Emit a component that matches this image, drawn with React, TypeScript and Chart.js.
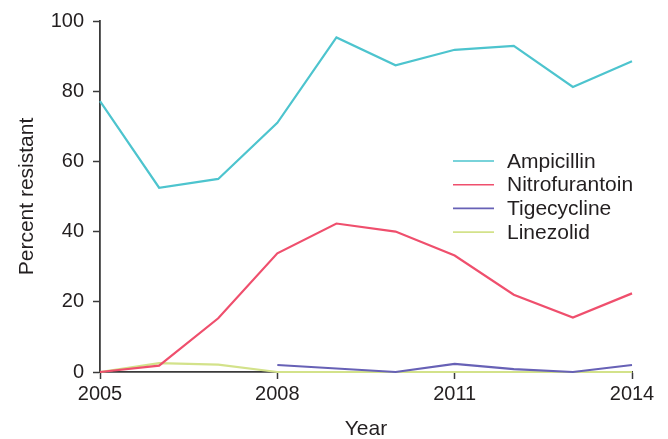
import React, { useEffect, useRef } from "react";
import { Chart, registerables } from "chart.js";

Chart.register(...registerables);

const years = [2005, 2006, 2007, 2008, 2009, 2010, 2011, 2012, 2013, 2014];
const xTicks = [2005, 2008, 2011, 2014];
const ampicillin = [77.2, 52.5, 55.0, 71.0, 95.3, 87.4, 91.8, 92.9, 81.2, 88.5];
const nitrofurantoin = [0, 1.8, 15.3, 33.8, 42.3, 40.0, 33.2, 22.0, 15.5, 22.4];
const tigecycline = [null, null, null, 2.0, 1.0, 0, 2.3, 0.8, 0, 2.0];
const linezolid = [0, 2.5, 2.1, 0, 0, 0, 0, 0, 0, 0];
const seriesNames = ["Ampicillin", "Nitrofurantoin", "Tigecycline", "Linezolid"];
const seriesColors = ["#4dc4ce", "#ef4f6d", "#6761b6", "#d3e28a"];

const FONT = "'Liberation Sans', Arial, Helvetica, sans-serif";
const TEXT = "#231f20";
const AXIS = "#3a3a3a";

const legendPlugin = {
  id: "customLegend",
  afterDraw(chart: any) {
    const ctx = chart.ctx;
    ctx.save();
    ctx.font = `21px ${FONT}`;
    ctx.textBaseline = "middle";
    ctx.textAlign = "left";
    chart.data.datasets.forEach((ds: any, i: number) => {
      const y = 161 + i * 23.7;
      ctx.strokeStyle = ds.borderColor;
      ctx.lineWidth = 1.6;
      ctx.beginPath();
      ctx.moveTo(453, y);
      ctx.lineTo(494, y);
      ctx.stroke();
      ctx.fillStyle = TEXT;
      ctx.fillText(ds.label, 507, y + 1);
    });
    ctx.restore();
  },
};

export default function App() {
  const ref = useRef<HTMLCanvasElement | null>(null);
  useEffect(() => {
    if (!ref.current) return;
    const series = [ampicillin, nitrofurantoin, tigecycline, linezolid];
    const chart = new Chart(ref.current, {
      type: "line",
      data: {
        datasets: series.map((vals, i) => ({
          label: seriesNames[i],
          data: years.map((yr, j) => ({ x: yr, y: vals[j] })),
          borderColor: seriesColors[i],
          backgroundColor: seriesColors[i],
          borderWidth: 2.2,
          pointRadius: 0,
          tension: 0,
          clip: false as any,
          spanGaps: false,
        })),
      },
      options: {
        animation: false,
        responsive: false,
        maintainAspectRatio: false,
        layout: { padding: { top: 21, right: 36, left: 0, bottom: 0 } },
        plugins: { legend: { display: false }, tooltip: { enabled: false } },
        scales: {
          x: {
            type: "linear",
            min: 2005,
            max: 2014,
            afterBuildTicks: (scale: any) => {
              scale.ticks = xTicks.map((v) => ({ value: v }));
            },
            afterFit: (scale: any) => {
              scale.height = 67;
            },
            grid: {
              display: true,
              drawOnChartArea: false,
              drawTicks: true,
              tickLength: 7,
              tickColor: AXIS,
              tickWidth: 1.5,
            },
            border: { display: true, color: AXIS, width: 1.8 },
            ticks: {
              color: TEXT,
              font: { family: FONT, size: 20 },
              padding: 3,
              maxRotation: 0,
              autoSkip: false,
              callback: (v: any) => String(v),
            },
            title: {
              display: true,
              text: "Year",
              color: TEXT,
              font: { family: FONT, size: 21 },
              padding: { top: 0, bottom: -3 },
            },
          },
          y: {
            min: 0,
            max: 100,
            afterFit: (scale: any) => {
              scale.width = 100;
            },
            grid: {
              display: true,
              drawOnChartArea: false,
              drawTicks: true,
              tickLength: 7,
              tickColor: AXIS,
              tickWidth: 1.5,
            },
            border: { display: true, color: AXIS, width: 1.8 },
            ticks: {
              stepSize: 20,
              color: TEXT,
              font: { family: FONT, size: 20 },
              padding: 9,
            },
            title: {
              display: true,
              text: "Percent resistant",
              color: TEXT,
              font: { family: FONT, size: 21 },
              padding: { top: 15, bottom: 0 },
            },
          },
        },
      },
      plugins: [legendPlugin],
    });
    return () => chart.destroy();
  }, []);
  return (
    <div style={{ position: "fixed", left: 0, top: 0, width: 668, height: 439, background: "#fff" }}>
      <canvas ref={ref} width={668} height={439} style={{ width: 668, height: 439, display: "block" }} />
    </div>
  );
}
